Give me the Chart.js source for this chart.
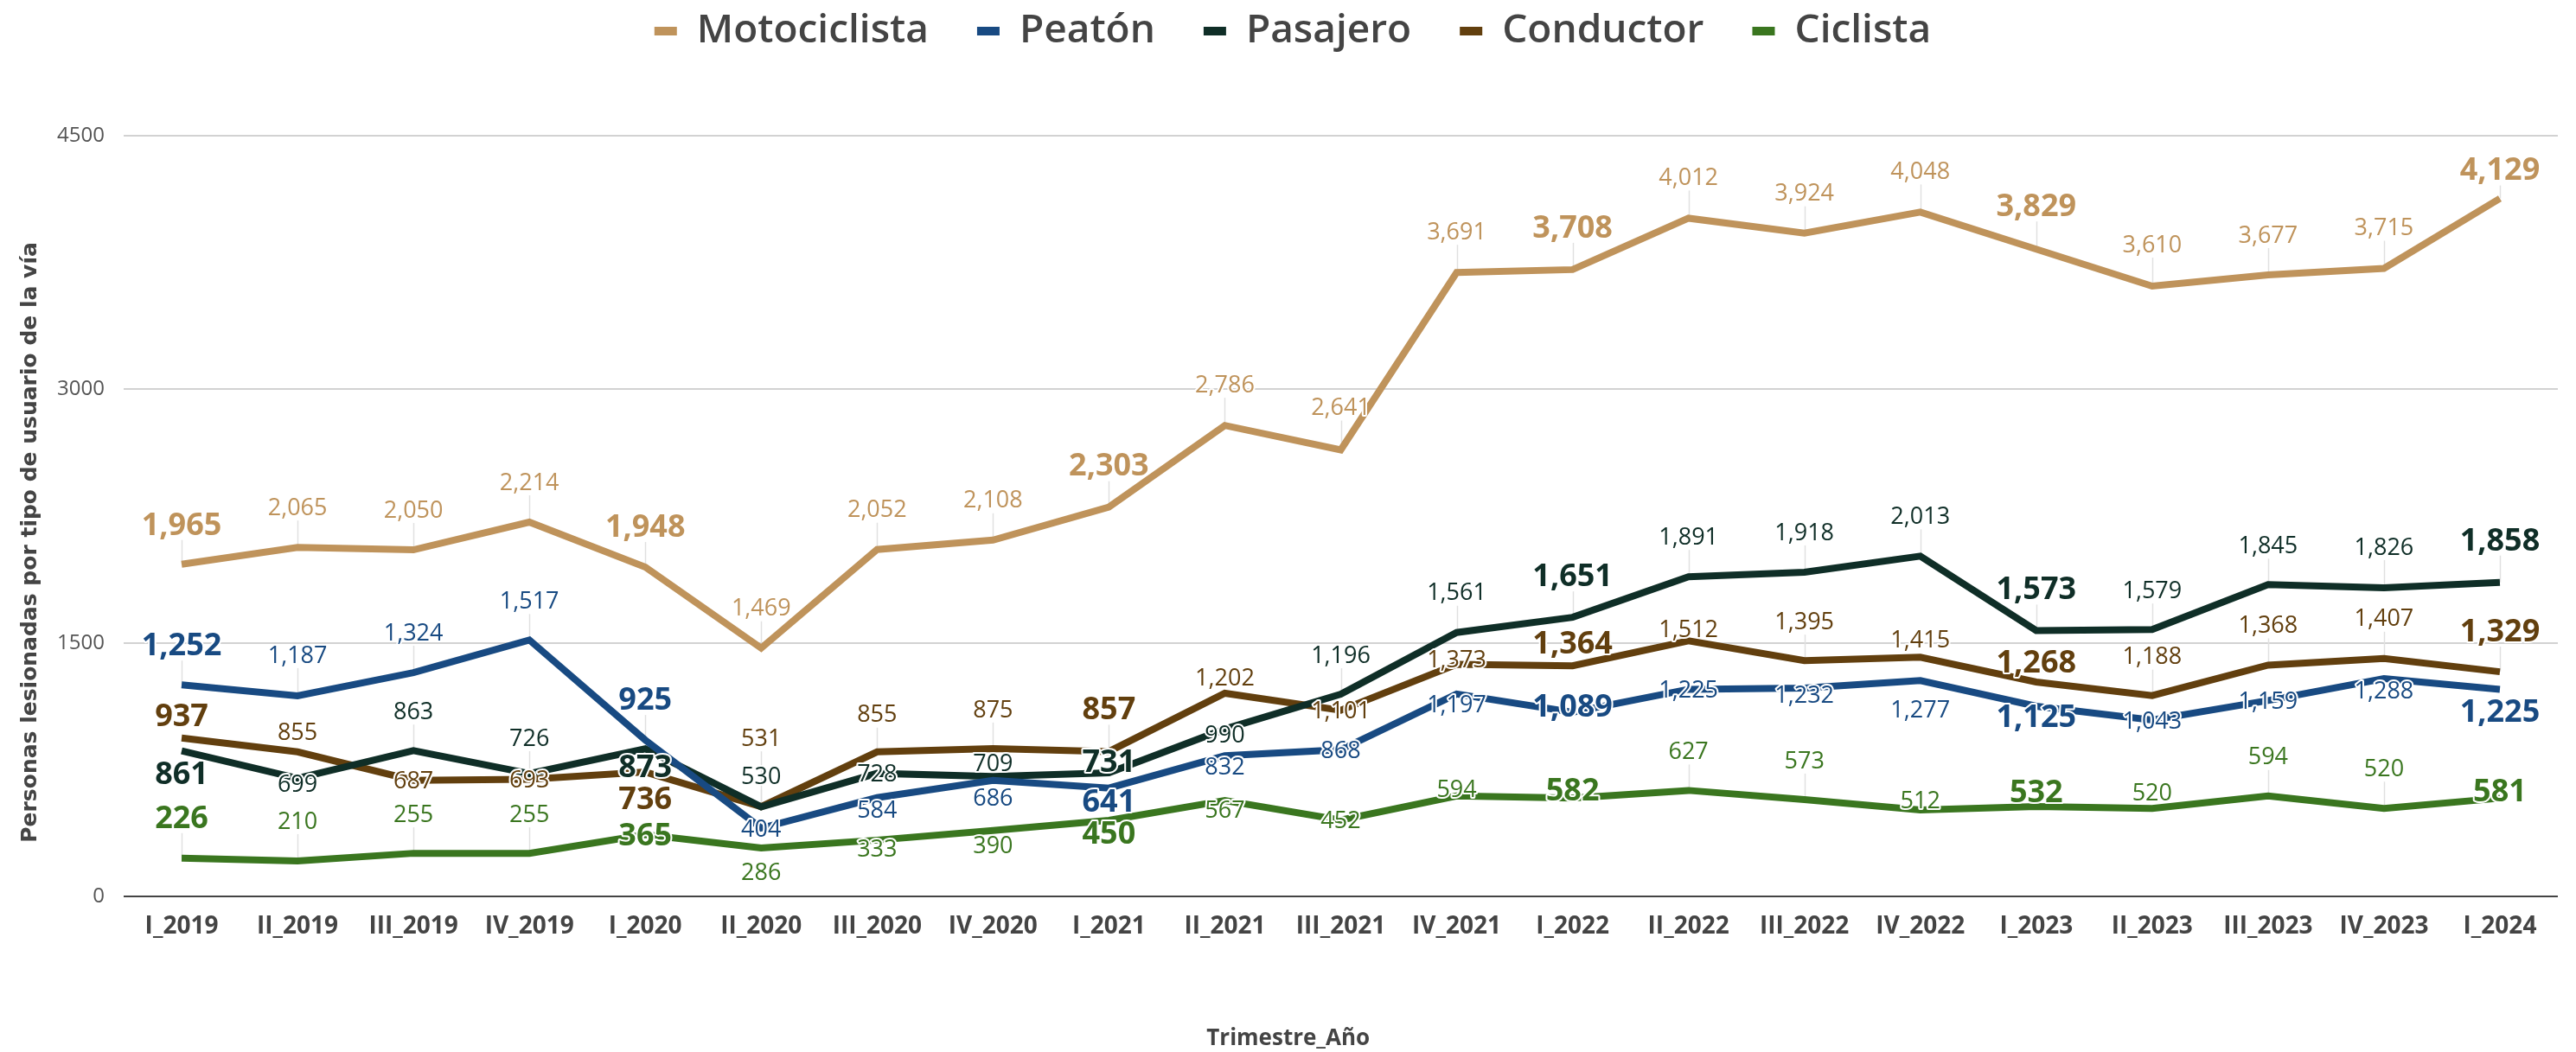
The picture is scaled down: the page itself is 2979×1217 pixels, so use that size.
<!DOCTYPE html>
<html>
<head>
<meta charset="utf-8">
<script src="https://cdn.jsdelivr.net/npm/chart.js@4.4.1/dist/chart.umd.min.js"></script>
<style>
html,body{margin:0;padding:0;background:#ffffff;}
canvas{display:block;}
</style>
</head>
<body>
<canvas id="c" width="2979" height="1217"></canvas>
<script>
// ---------- data ----------
const categories = ['I_2019','II_2019','III_2019','IV_2019','I_2020','II_2020','III_2020','IV_2020',
  'I_2021','II_2021','III_2021','IV_2021','I_2022','II_2022','III_2022','IV_2022',
  'I_2023','II_2023','III_2023','IV_2023','I_2024'];

const motociclista = [1965,2065,2050,2214,1948,1469,2052,2108,2303,2786,2641,3691,3708,4012,3924,4048,3829,3610,3677,3715,4129];
const peaton       = [1252,1187,1324,1517,925,404,584,686,641,832,868,1197,1089,1225,1232,1277,1125,1043,1159,1288,1225];
const pasajero     = [861,699,863,726,873,530,728,709,731,990,1196,1561,1651,1891,1918,2013,1573,1579,1845,1826,1858];
const conductor    = [937,855,687,693,736,531,855,875,857,1202,1101,1373,1364,1512,1395,1415,1268,1188,1368,1407,1329];
const ciclista     = [226,210,255,255,365,286,333,390,450,567,452,594,582,627,573,512,532,520,594,520,581];

const seriesNames = ['Motociclista','Peatón','Pasajero','Conductor','Ciclista'];
const yTicks = [0,1500,3000,4500];

// ---------- label placement (vertical shift of each value label, px; negative = above) ----------
const labelShiftMotociclista = [-47,-47,-47,-47,-48,-47,-47,-47,-49,-48,-50,-48,-50,-48,-47,-48,-51,-49,-47,-48,-34];
const labelShiftPeaton       = [-47,-48,-47,-46,-48,0,14,20,14,12,0,11,-8,0,7,33,11,0,0,13,25];
const labelShiftPasajero     = [26,6,-46,-42,20,-36,0,-16,-14,6,-46,-47,-49,-47,-47,-47,-49,-46,-46,-48,-50];
const labelShiftConductor    = [-27,-23,0,0,30,-80,-44,-46,-50,-19,0,-6,-27,-14,-46,-21,-24,-46,-47,-47,-48];
const labelShiftCiclista     = [-48,-47,-46,-46,0,27,9,17,14,10,0,-8,-10,-46,-46,-12,-18,-19,-46,-47,-9];

// ---------- style ----------
const colors = ['#BF935B','#184A82','#0F2E27','#623F0E','#3A761F'];
const FONT = "'Open Sans', 'Noto Sans', sans-serif";
const TEXT_GRAY = '#444444';
const LEGEND_FONT = 46;
const LEGEND_GAP = 56;
const LEGEND_H = 157;
const LEGEND_SHIFT = 36 - (LEGEND_GAP + LEGEND_FONT / 2);
const LEGEND_SHIFT_X = 16;

const leaderAndLabels = {
  id: 'leaderAndLabels',
  beforeDatasetsDraw(chart) {
    const ctx = chart.ctx;
    ctx.save();
    ctx.strokeStyle = '#e0e0e0';
    ctx.lineWidth = 1.5;
    chart.data.datasets.forEach((ds, di) => {
      const meta = chart.getDatasetMeta(di);
      meta.data.forEach((pt, i) => {
        const dy = ds.labelShift[i];
        if (dy <= -30) {
          const big = chart.data.labels[i].startsWith('I_');
          const half = big ? 13 : 10;
          const x = Math.round(pt.x) + 0.5;
          ctx.beginPath();
          ctx.moveTo(x, pt.y + dy + half + 6);
          ctx.lineTo(x, pt.y);
          ctx.stroke();
        }
      });
    });
    ctx.restore();
  },
  afterDatasetsDraw(chart) {
    const ctx = chart.ctx;
    ctx.save();
    ctx.textAlign = 'center';
    ctx.textBaseline = 'alphabetic';
    ctx.lineJoin = 'round';
    chart.data.datasets.forEach((ds, di) => {
      const meta = chart.getDatasetMeta(di);
      meta.data.forEach((pt, i) => {
        const big = chart.data.labels[i].startsWith('I_');
        const size = big ? 36 : 27;
        ctx.font = (big ? 'bold ' : '') + size + 'px ' + FONT;
        const text = ds.data[i].toLocaleString('en-US');
        const cy = pt.y + ds.labelShift[i];
        const by = cy + size * 0.357;
        ctx.strokeStyle = '#ffffff';
        ctx.lineWidth = 4;
        ctx.strokeText(text, pt.x, by);
        ctx.fillStyle = ds.borderColor;
        ctx.fillText(text, pt.x, by);
      });
    });
    ctx.restore();
  }
};

const legendPatch = {
  id: 'legendPatch',
  beforeLayout(chart) {
    const lg = chart.legend;
    if (!lg || lg.__patched) return;
    lg.__patched = true;
    const origFit = lg.fit.bind(lg);
    lg.fit = function () { origFit(); this.height = LEGEND_H; };
    const origDraw = lg.draw.bind(lg);
    lg.draw = function () {
      const c = this.ctx;
      c.save();
      c.translate(LEGEND_SHIFT_X, LEGEND_SHIFT);
      origDraw();
      c.restore();
    };
  }
};

const seriesValues = [motociclista, peaton, pasajero, conductor, ciclista];
const seriesShifts = [labelShiftMotociclista, labelShiftPeaton, labelShiftPasajero, labelShiftConductor, labelShiftCiclista];

const datasets = seriesNames.map((name, k) => ({
  label: name,
  data: seriesValues[k],
  labelShift: seriesShifts[k],
  borderColor: colors[k],
  backgroundColor: colors[k],
  borderWidth: 8,
  pointRadius: 0,
  pointHoverRadius: 0,
  tension: 0,
  fill: false
}));

new Chart(document.getElementById('c'), {
  type: 'line',
  data: { labels: categories, datasets },
  plugins: [leaderAndLabels, legendPatch],
  options: {
    responsive: false,
    animation: false,
    devicePixelRatio: 1,
    layout: { padding: { left: 0, right: 21, top: 0, bottom: 0 } },
    plugins: {
      tooltip: { enabled: false },
      legend: {
        position: 'top',
        align: 'center',
        labels: {
          color: TEXT_GRAY,
          font: { family: FONT, size: LEGEND_FONT, weight: '600' },
          boxWidth: 26,
          boxHeight: 10,
          padding: LEGEND_GAP,
          generateLabels(chart) {
            const items = Chart.defaults.plugins.legend.labels.generateLabels(chart);
            items.forEach(it => { it.lineWidth = 0; it.strokeStyle = 'rgba(0,0,0,0)'; });
            return items;
          }
        }
      }
    },
    scales: {
      x: {
        type: 'category',
        offset: true,
        grid: { display: false, drawTicks: false },
        border: { display: false },
        ticks: {
          color: TEXT_GRAY,
          font: { family: FONT, size: 28, weight: 'bold' },
          padding: 18,
          maxRotation: 0,
          autoSkip: false
        },
        title: {
          display: true,
          text: 'Trimestre_Año' + '\u00a0'.repeat(18),
          color: TEXT_GRAY,
          font: { family: FONT, size: 26, weight: 'bold' },
          padding: { top: 0, bottom: 0 }
        },
        afterFit(scale) { scale.height = 180; }
      },
      y: {
        min: 0,
        max: 4500,
        afterBuildTicks(scale) { scale.ticks = yTicks.map(v => ({ value: v })); },
        grid: {
          drawTicks: false,
          lineWidth: 2,
          color: (c) => (c.tick && c.tick.value === 0) ? '#444444' : '#d2d2d2'
        },
        border: { display: false },
        ticks: {
          color: '#555555',
          font: { family: FONT, size: 24 },
          padding: 22,
          callback: (v) => String(v)
        },
        title: {
          display: true,
          text: 'Personas lesionadas por tipo de usuario de la vía' + '\u00a0'.repeat(7),
          color: TEXT_GRAY,
          font: { family: "'DejaVu Sans', sans-serif", size: 25, weight: 'bold' },
          padding: { top: 20, bottom: 0 }
        },
        afterFit(scale) { scale.width = 143; }
      }
    }
  }
});
</script>
</body>
</html>
